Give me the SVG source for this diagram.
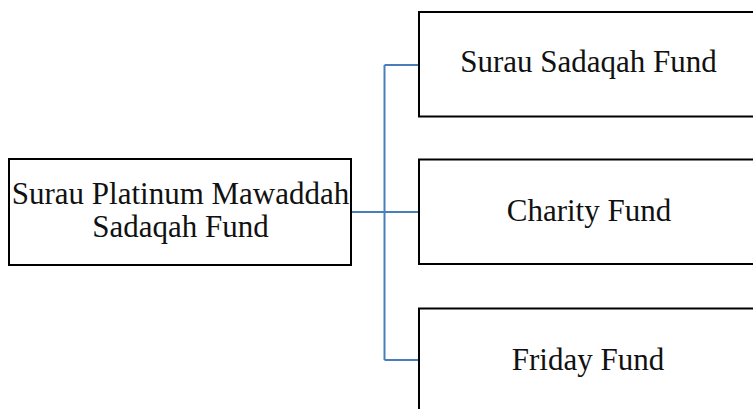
<svg xmlns="http://www.w3.org/2000/svg" width="753" height="409" viewBox="0 0 753 409">
<style>
.box{fill:#fff;stroke:#000;stroke-width:2}
.lbl{font-family:"Liberation Serif","Times New Roman",serif;font-size:31px;fill:#111;text-anchor:middle}
.conn{fill:none;stroke:#4a7ebb;stroke-width:2}
</style>
<rect width="753" height="409" fill="#fff"/>
<g id="connectors">
<path class="conn" d="M351 212 H384.5 M384.5 65 V360 M384.5 65 H419 M384.5 212 H419 M384.5 360 H419"/>
</g>
<g id="node-main">
<rect class="box" x="9" y="159" width="342" height="106"/>
<text class="lbl" x="180.5" y="204">Surau Platinum Mawaddah</text>
<text class="lbl" x="180.5" y="236.5">Sadaqah Fund</text>
</g>
<g id="node-surau">
<rect class="box" x="419" y="12" width="345" height="104.5"/>
<text class="lbl" x="588.5" y="72.3">Surau Sadaqah Fund</text>
</g>
<g id="node-charity">
<rect class="box" x="419" y="159.5" width="345" height="104.5"/>
<text class="lbl" x="589" y="220.7">Charity Fund</text>
</g>
<g id="node-friday">
<rect class="box" x="419" y="308.5" width="345" height="110"/>
<text class="lbl" x="588" y="370">Friday Fund</text>
</g>
</svg>
